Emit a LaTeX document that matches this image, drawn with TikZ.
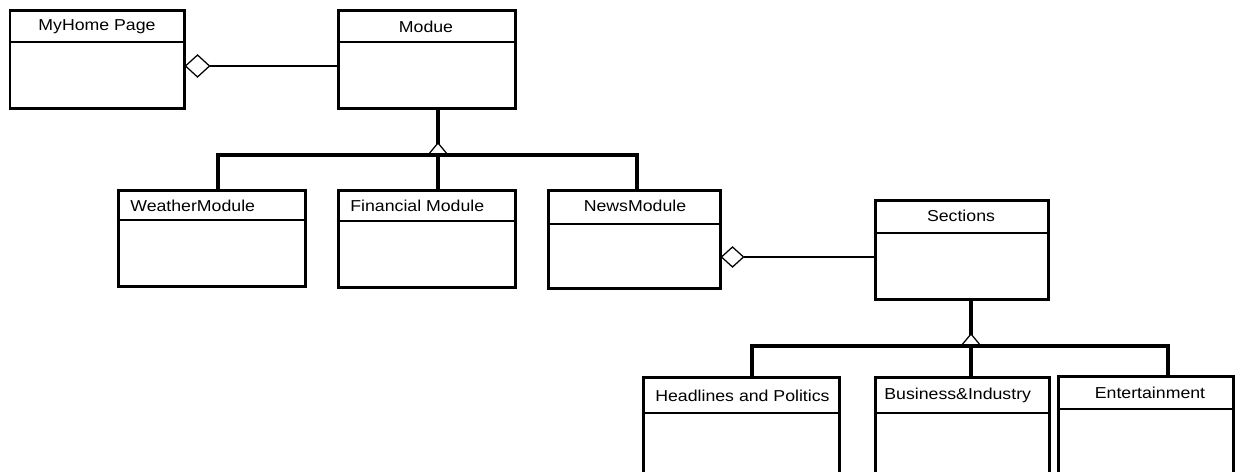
\documentclass[tikz,border=0pt]{standalone}
\usepackage{fontspec}
\setmainfont{Liberation Sans}[FakeStretch=1.12]
\usetikzlibrary{fit,calc}
\begin{document}
\begin{tikzpicture}[x=0.02cm,y=-0.02cm,
  cls/.style={draw, line width=0.06cm, inner sep=0pt},
  divider/.style={line width=0.022cm},
  conn/.style={line width=0.065cm, line cap=rect},
  assoc/.style={line width=0.05cm},
  hollow/.style={line width=0.025cm, fill=white, line join=miter},
  title/.style={font=\fontsize{9}{10}\selectfont, inner sep=0pt}]
\useasboundingbox (0,0) rectangle (1238,472);
\clip (0,0) rectangle (1238,472);
\fill[white] (0,0) rectangle (1238,472);

% ---- classes: outer box, header divider, name ----
\node[cls, fit={(10,11)(184,109)}] (home) {};
\draw[divider] (home.west |- 0,42) -- (home.east |- 0,42);
\node[title] (homeT) at (97,27) {MyHome Page};

\node[cls, fit={(338,11)(515,109)}] (mod) {};
\draw[divider] (mod.west |- 0,42) -- (mod.east |- 0,42);
\node[title] (modT) at (426,27) {Modue};

\node[cls, fit={(118,191)(305,287)}] (wea) {};
\draw[divider] (wea.west |- 0,220) -- (wea.east |- 0,220);
\node[title, anchor=west] (weaT) at (130,206) {WeatherModule};

\node[cls, fit={(338,191)(515,288)}] (fin) {};
\draw[divider] (fin.west |- 0,221) -- (fin.east |- 0,221);
\node[title, anchor=west] (finT) at (350,206) {Financial Module};

\node[cls, fit={(548,191)(720,289)}] (news) {};
\draw[divider] (news.west |- 0,224) -- (news.east |- 0,224);
\node[title] (newsT) at (635,206) {NewsModule};

\node[cls, fit={(875,201)(1048,300)}] (sec) {};
\draw[divider] (sec.west |- 0,233) -- (sec.east |- 0,233);
\node[title] (secT) at (961,216) {Sections};

\node[cls, fit={(643,378)(839,500)}] (head) {};
\draw[divider] (head.west |- 0,413) -- (head.east |- 0,413);
\node[title, anchor=west] (headT) at (655,396) {Headlines and Politics};

\node[cls, fit={(875,378)(1049,500)}] (bus) {};
\draw[divider] (bus.west |- 0,413) -- (bus.east |- 0,413);
\node[title, anchor=west] (busT) at (884,395) {Business\&Industry};

\node[cls, fit={(1058,377)(1233,500)}] (ent) {};
\draw[divider] (ent.west |- 0,409) -- (ent.east |- 0,409);
\node[title] (entT) at (1150,393) {Entertainment};

% ---- aggregations (hollow diamond at the whole) ----
\coordinate (a1) at ($(home.east)+(0,6)$);
\draw[assoc] (mod.west |- a1) -- ($(a1)+(24,0)$);
\draw[hollow] (a1) -- ++(12,-11) -- ++(12,11) -- ++(-12,11) -- cycle;

\coordinate (a2) at ($(news.east)+(0,17)$);
\draw[assoc] (sec.west |- a2) -- ($(a2)+(22,0)$);
\draw[hollow] (a2) -- ++(11,-10) -- ++(11,10) -- ++(-11,10) -- cycle;

% ---- generalization tree under Module ----
\coordinate (g1) at (438,155);
\coordinate (w1) at (218,155);
\coordinate (n1) at (637,155);
\draw[conn] (g1 |- mod.south) -- (g1);
\draw[hollow] ($(g1)+(-10,0)$) -- ($(g1)+(0,-12)$) -- ($(g1)+(10,0)$) -- cycle;
\draw[conn] (w1) -- (n1);
\draw[conn] (w1) -- (w1 |- wea.north);
\draw[conn] (g1) -- (g1 |- fin.north);
\draw[conn] (n1) -- (n1 |- news.north);

% ---- generalization tree under Sections ----
\coordinate (g2) at (971,346);
\coordinate (h1) at (752,346);
\coordinate (e1) at (1168,346);
\draw[conn] (g2 |- sec.south) -- (g2);
\draw[hollow] ($(g2)+(-10,0)$) -- ($(g2)+(0,-12)$) -- ($(g2)+(10,0)$) -- cycle;
\draw[conn] (h1) -- (e1);
\draw[conn] (h1) -- (h1 |- head.north);
\draw[conn] (g2) -- (g2 |- bus.north);
\draw[conn] (e1) -- (e1 |- ent.north);
\end{tikzpicture}
\end{document}
